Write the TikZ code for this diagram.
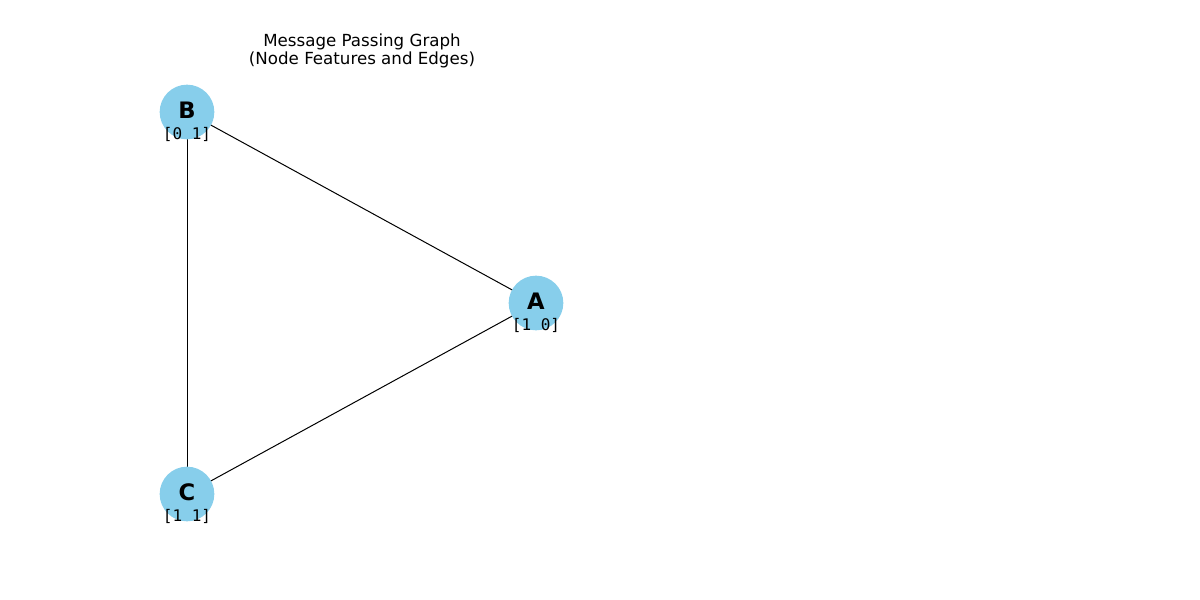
\documentclass[tikz,border=0pt]{standalone}
\usepackage{fontspec}
\setmainfont{DejaVu Sans}
\setmonofont{DejaVu Sans Mono}
\definecolor{skyblue}{HTML}{87CEEB}
\begin{document}
\begin{tikzpicture}[x=0.75pt,y=-0.75pt,
  gnode/.style={circle,fill=skyblue,draw=none,minimum size=41pt,inner sep=0pt},
  glabel/.style={font=\fontsize{17}{19}\selectfont\bfseries,inner sep=0pt},
  feat/.style={font=\fontsize{12}{14}\selectfont\ttfamily,inner sep=0pt},
  edge/.style={draw=black,line width=0.75pt}]
\useasboundingbox (0,0) rectangle (1200,600);
\coordinate (pa) at (536,303);
\coordinate (pb) at (187,112);
\coordinate (pc) at (187,494);
\draw[edge] (pa) -- (pb);
\draw[edge] (pb) -- (pc);
\draw[edge] (pc) -- (pa);
\node[gnode] (A) at (pa) {};
\node[gnode] (B) at (pb) {};
\node[gnode] (C) at (pc) {};
\node[glabel] (la) at (536,301.5) {A};
\node[glabel] (lb) at (187,110.5) {B};
\node[glabel] (lc) at (187,492.5) {C};
\node[feat] (fa) at (536,325.5) {[1 0]};
\node[feat] (fb) at (187,134.5) {[0 1]};
\node[feat] (fc) at (187,516.5) {[1 1]};
\node[font=\fontsize{12.5}{14}\selectfont,align=center,inner sep=0pt] (title) at (362,51) {Message Passing Graph\\(Node Features and Edges)};
\end{tikzpicture}
\end{document}
